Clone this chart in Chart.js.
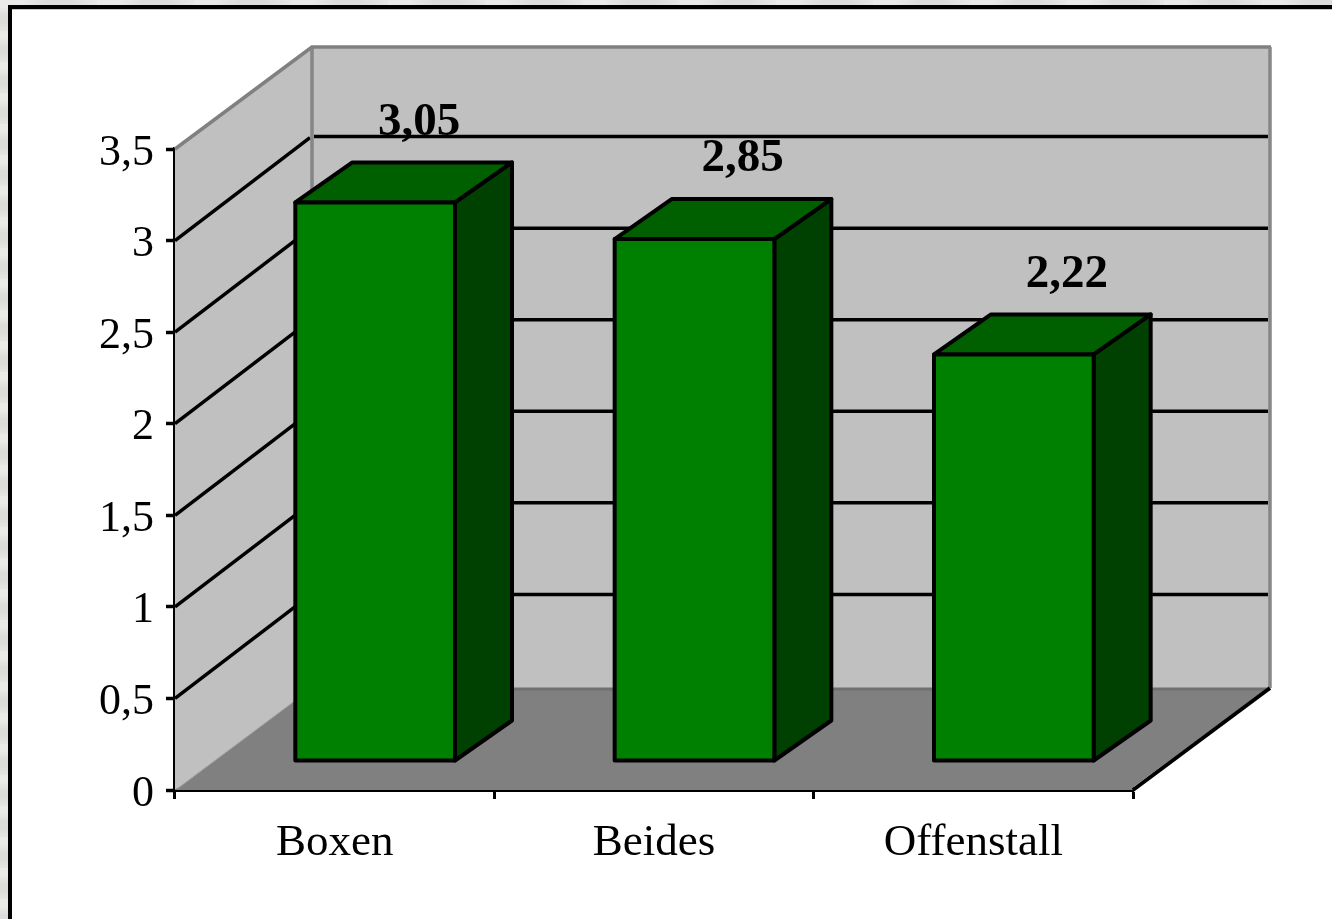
<!DOCTYPE html>
<html>
<head>
<meta charset="utf-8">
<title>Boxen Beides Offenstall</title>
<script src="https://cdn.jsdelivr.net/npm/chart.js@4/dist/chart.umd.min.js"></script>
<style>
html, body { margin: 0; height: 100%; overflow: hidden; }
body {
    background-color: #c4c6c2;
    background-image:
        repeating-linear-gradient(180deg, rgba(255,255,255,.4) 0 7px, rgba(255,255,255,0) 16px 23px, rgba(255,255,255,.25) 31px),
        repeating-linear-gradient(90deg, rgba(255,255,255,.4) 0 21px, rgba(255,255,255,0) 47px 70px, rgba(255,255,255,.3) 97px);
}
#panel {
    position: absolute; left: 8px; top: 5px; width: 1340px; height: 940px;
    background: #fff; border: solid #000; border-width: 4px 0 0 4px;
    box-shadow: inset 0 1px 0 #c8c8c8;
}
#stock { position: absolute; left: 0; top: 0; }
</style>
</head>
<body>
<div id="panel"></div>
<canvas id="stock" width="1332" height="919"></canvas>
<script>
const categories = ['Boxen', 'Beides', 'Offenstall']
const values = [3.05, 2.85, 2.22]
const tickLabels = ['0', '0,5', '1', '1,5', '2', '2,5', '3', '3,5']
const tickValues = [0, 0.5, 1, 1.5, 2, 2.5, 3, 3.5]

// depth of the fake 3d box and of the bars
const wallDx = 137, wallDy = -102, gridDy = -104
const barShiftX = 40.5, barShiftY = -29
const barDx = 57, barDy = -40
const labelDx = [44, 48, 53]

function poly(ctx, pts, fill, stroke, width) {
    ctx.beginPath()
    pts.forEach((p, i) => i ? ctx.lineTo(p[0], p[1]) : ctx.moveTo(p[0], p[1]))
    ctx.closePath()
    if (fill) { ctx.fillStyle = fill; ctx.fill() }
    if (stroke) { ctx.strokeStyle = stroke; ctx.lineWidth = width; ctx.lineJoin = 'round'; ctx.stroke() }
}

function line(ctx, x1, y1, x2, y2, color, width) {
    ctx.beginPath()
    ctx.moveTo(x1, y1)
    ctx.lineTo(x2, y2)
    ctx.strokeStyle = color
    ctx.lineWidth = width
    ctx.stroke()
}

const box3d = {
    id: 'box3d',
    beforeDatasetsDraw(chart) {
        const { ctx, chartArea: a, scales: { y } } = chart
        const l = a.left, r = a.right, t = y.getPixelForValue(3.5), b = y.getPixelForValue(0)
        ctx.save()
        // back wall, side wall, floor
        poly(ctx, [[l + wallDx, t + wallDy], [r + wallDx, t + wallDy], [r + wallDx, b + wallDy], [l + wallDx, b + wallDy]], '#c0c0c0')
        poly(ctx, [[l, t], [l + wallDx, t + wallDy], [l + wallDx, b + wallDy], [l, b]], '#c0c0c0')
        poly(ctx, [[l, b], [l + wallDx, b + wallDy], [r + wallDx, b + wallDy], [r, b]], '#808080')
        // grid lines on both walls
        tickValues.slice(1, -1).forEach(v => {
            const py = y.getPixelForValue(v)
            line(ctx, l, py, l + wallDx - 2, py + gridDy + 1, '#000', 3.5)
            line(ctx, l + wallDx + 2, py + gridDy, r + wallDx - 2, py + gridDy, '#000', 3.5)
        })
        // grey edges
        line(ctx, l, t, l + wallDx, t + wallDy, '#808080', 3.5)
        line(ctx, l + wallDx, t + wallDy, l + wallDx, b + wallDy, '#868686', 3.5)
        line(ctx, l + wallDx - 1, t + wallDy, r + wallDx + 1, t + wallDy, '#808080', 3.5)
        line(ctx, r + wallDx, t + wallDy, r + wallDx, b + wallDy, '#868686', 3.5)
        line(ctx, l + wallDx, b + wallDy + 1, r + wallDx, b + wallDy + 1, '#707070', 3)
        line(ctx, l + 2, b - 1, l + wallDx, b + wallDy, '#a0a0a0', 1)
        line(ctx, r + 1, b - 3, r + wallDx, b + wallDy - 1, '#e0e0e0', 1)
        line(ctx, r, b, r + wallDx, b + wallDy, '#000', 4)

        // side and top faces, the front comes from the bar element
        chart.getDatasetMeta(0).data.forEach(bar => {
            const x1 = bar.x - bar.width / 2 + barShiftX, x2 = bar.x + bar.width / 2 + barShiftX
            const top = bar.y + barShiftY, bot = bar.base + barShiftY
            poly(ctx, [[x2, top], [x2 + barDx, top + barDy], [x2 + barDx, bot + barDy], [x2, bot]], '#004000', '#000', 4)
            poly(ctx, [[x1, top], [x1 + barDx, top + barDy], [x2 + barDx, top + barDy], [x2, top]], '#006000', '#000', 4)
        })
        ctx.restore()
        ctx.save()
        ctx.translate(barShiftX, barShiftY)
    },
    afterDatasetsDraw(chart) {
        const { ctx } = chart
        ctx.restore()
        ctx.save()
        chart.getDatasetMeta(0).data.forEach(bar => {
            const x1 = bar.x - bar.width / 2 + barShiftX, x2 = bar.x + bar.width / 2 + barShiftX
            const top = bar.y + barShiftY, bot = bar.base + barShiftY
            poly(ctx, [[x1, top], [x2, top], [x2, bot], [x1, bot]], null, '#000', 4)
        })
        ctx.font = 'bold 47px "Liberation Serif"'
        ctx.fillStyle = '#000'
        ctx.textAlign = 'center'
        ctx.textBaseline = 'middle'
        chart.getDatasetMeta(0).data.forEach((bar, i) => {
            ctx.fillText(String(values[i]).replace('.', ','), bar.x + barShiftX + labelDx[i], bar.y + barShiftY - 80)
        })
        ctx.restore()
    }
}

const chart = new Chart(document.querySelector('#stock'), {
    type: 'bar',
    data: {
        labels: categories,
        datasets: [{
            data: values,
            backgroundColor: '#008000',
            borderWidth: 0,
            barPercentage: 1,
            categoryPercentage: 0.5
        }]
    },
    plugins: [box3d],
    options: {
        responsive: false,
        animation: false,
        layout: { padding: { top: 149, right: 199, left: 0, bottom: 0 } },
        plugins: { legend: { display: false }, tooltip: { enabled: false } },
        scales: {
            x: {
                afterFit(s) { s.height = 129 },
                border: { color: '#000', width: 4 },
                grid: { drawOnChartArea: false, color: '#000', tickColor: '#000', tickWidth: 3, tickLength: 9 },
                ticks: { color: '#000', font: { family: 'Liberation Serif', size: 45 }, padding: 17, maxRotation: 0 }
            },
            y: {
                min: 0,
                max: 3.5,
                afterFit(s) { s.width = 175 },
                afterBuildTicks(s) { s.ticks = tickValues.map(v => ({ value: v })) },
                border: { color: '#000', width: 4 },
                grid: { drawOnChartArea: false, color: '#000', tickColor: '#000', tickWidth: 3.5, tickLength: 9 },
                ticks: {
                    color: '#000',
                    font: { family: 'Liberation Serif', size: 44, lineHeight: '8px' },
                    padding: 12,
                    // empty first line pushes the text down a little
                    callback: (v) => ['', tickLabels[tickValues.indexOf(v)]]
                }
            }
        }
    }
})
</script>
</body>
</html>
